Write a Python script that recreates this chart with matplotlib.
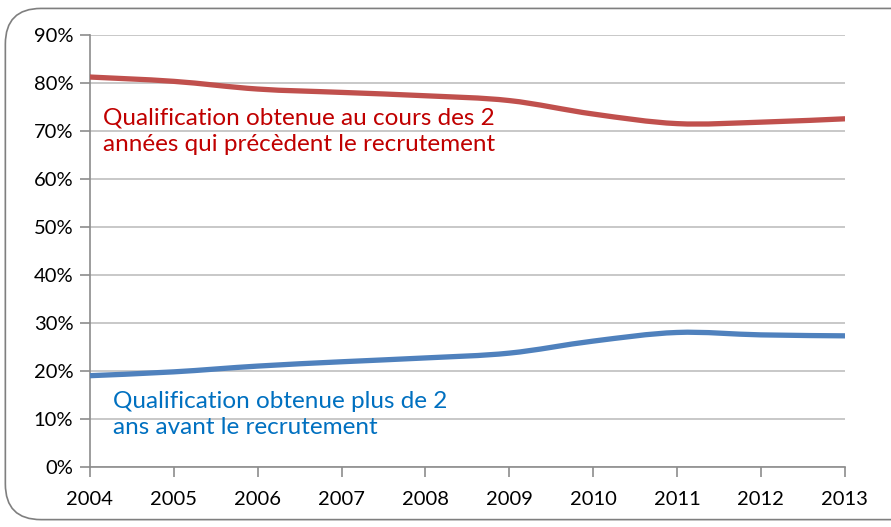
import numpy as np
import matplotlib.pyplot as plt
from matplotlib.path import Path
from matplotlib.patches import PathPatch, FancyBboxPatch

plt.rcParams['font.family'] = ['Lato', 'DejaVu Sans']

years = [2004, 2005, 2006, 2007, 2008, 2009, 2010, 2011, 2012, 2013]
recent = [81.2, 80.3, 78.7, 78.0, 77.3, 76.3, 73.5, 71.5, 71.8, 72.5]
older = [19.0, 19.8, 21.0, 21.9, 22.7, 23.7, 26.2, 28.0, 27.5, 27.3]

label_recent = "Qualification obtenue au cours des 2\nannées qui précèdent le recrutement"
label_older = "Qualification obtenue plus de 2\nans avant le recrutement"


def smooth_path(x, y):
    """Excel-like smoothed line as cubic bezier segments."""
    x = np.asarray(x, float)
    y = np.asarray(y, float)
    verts = [(x[0], y[0])]
    codes = [Path.MOVETO]
    n = len(x)
    for i in range(n - 1):
        p0 = i - 1 if i > 0 else i
        p3 = i + 2 if i + 2 < n else i + 1
        c1 = (x[i] + (x[i + 1] - x[p0]) / 6, y[i] + (y[i + 1] - y[p0]) / 6)
        c2 = (x[i + 1] - (x[p3] - x[i]) / 6, y[i + 1] - (y[p3] - y[i]) / 6)
        verts += [c1, c2, (x[i + 1], y[i + 1])]
        codes += [Path.CURVE4] * 3
    return Path(verts, codes)


fig = plt.figure(figsize=(8.91, 5.27), dpi=100)
ax = fig.add_axes([0.101, 0.114, 0.847, 0.82])

border = FancyBboxPatch((0.006, 0.014), 1.05, 0.97, boxstyle="round,pad=0,rounding_size=0.04",
                        transform=fig.transFigure, fill=False, edgecolor='#7f7f7f',
                        linewidth=1.2, mutation_aspect=891 / 527)
fig.patches.append(border)

for vals, col in [(recent, '#C0504D'), (older, '#4F81BD')]:
    ax.add_patch(PathPatch(smooth_path(years, vals), facecolor='none', edgecolor=col,
                           linewidth=3.8, capstyle='round', zorder=3))

ax.set_xlim(2004, 2013)
ax.set_ylim(0, 90)
ax.set_xticks(years)
ax.set_yticks(range(0, 91, 10))
ax.set_yticklabels([f"{v}%" for v in range(0, 91, 10)])
ax.grid(axis='y', color='#bfbfbf', linewidth=1.2)
ax.set_axisbelow(True)
for s in ['top', 'right']:
    ax.spines[s].set_visible(False)
for s in ['left', 'bottom']:
    ax.spines[s].set_color('#8c8c8c')
    ax.spines[s].set_linewidth(1.2)
ax.tick_params(axis='both', colors='#8c8c8c', labelcolor='black', labelsize=14.5,
               length=7, width=1.2)
ax.tick_params(axis='x', pad=10)
ax.tick_params(axis='y', pad=5)

ax.text(2004.15, 70.0, label_recent, color='#C00000', fontsize=17.5, va='center',
        linespacing=1.33)
ax.text(2004.27, 10.9, label_older, color='#0070C0', fontsize=17.5, va='center',
        linespacing=1.33)

fig.savefig('out.png', dpi=100)
